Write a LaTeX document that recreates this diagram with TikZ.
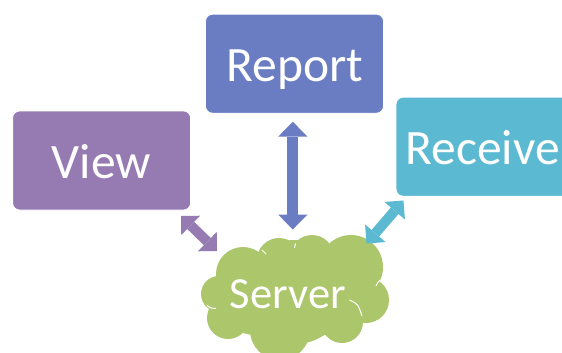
\documentclass[tikz,border=0pt]{standalone}
\usepackage{fontspec}
\setmainfont{Carlito}
\usetikzlibrary{arrows.meta}
\definecolor{reportc}{HTML}{6A7DC2}
\definecolor{viewc}{HTML}{967BB3}
\definecolor{recvc}{HTML}{5BBAD1}
\definecolor{cloudc}{HTML}{ACC66C}
\begin{document}
\begin{tikzpicture}[x=1pt,y=-1pt,
  box/.style={rounded corners=7pt, draw=white, line width=0.8pt, minimum width=178pt, minimum height=99pt, inner sep=0pt},
  lbl/.style={text=white, font=\fontsize{49.5}{49.5}\selectfont, inner sep=0pt},
  bigarrow/.style={line width=10.8pt, {Triangle[width=29.4pt,length=15pt,line width=0pt]}-{Triangle[width=29.4pt,length=15pt,line width=0pt]}},
  diagarrow/.style={line width=10pt, {Triangle[width=27pt,length=13.5pt,line width=0pt]}-{Triangle[width=27pt,length=13.5pt,line width=0pt]}},
  puff/.style={fill=cloudc},
  inner/.style={draw=white, line width=1pt}]
\useasboundingbox (0,0) rectangle (562,353);
\clip (0,0) rectangle (562,353);
% boxes
\node[box, fill=reportc] (report) at (294.5,63.7) {};
\node[box, fill=viewc] (view) at (101.6,160.5) {};
\node[box, fill=recvc] (receive) at (485,146.7) {};
\node[lbl, anchor=base] (reportlbl) at (295.2,81.7) {Report};
\node[lbl, anchor=base] (viewlbl) at (101.3,178.3) {View};
\node[lbl, anchor=base west] (receivelbl) at (405.5,164.3) {Receive};
% cloud
\fill[puff] (243,274) circle (27);
\fill[puff] (279,260) circle (22);
\fill[puff] (312,257) circle (22);
\fill[puff] (351,267) circle (32);
\fill[puff] (366,300) circle (23);
\fill[puff] (342,322) circle (21);
\fill[puff] (280,330) circle (30);
\fill[puff] (228,318) circle (21);
\fill[puff] (219,294) circle (18);
\fill[puff] (295,292) circle (52);
\fill[puff] (255,300) circle (35);
\fill[puff] (325,305) circle (30);
% inner white arcs
\draw[inner] (207,305.5) .. controls (210,308) .. (216,308.5);
\draw[inner] (349.5,300) .. controls (358,304) .. (362,316);
\draw[inner] (376,286) .. controls (378,282) .. (380,280);
\draw[inner] (324.5,337) .. controls (323,341) .. (322.5,346);
\draw[inner] (262,250) .. controls (264,251.5) .. (266,254);
\draw[inner] (295.5,243.5) .. controls (295,245.5) .. (294.5,248);
\node[lbl, font=\fontsize{44.5}{44.5}\selectfont, anchor=base] (serverlbl) at (287.7,308.3) {Server};
% connectors
\coordinate (rtop) at (292.8,121.7);
\coordinate (rbot) at (292.8,229.5);
\coordinate (vtop) at (181,216);
\coordinate (vbot) at (217,251);
\coordinate (ctop) at (403.5,200.5);
\coordinate (cbot) at (366.5,243.5);
\draw[bigarrow, reportc] (rtop) -- (rbot);
\draw[diagarrow, viewc] (vtop) -- (vbot);
\draw[diagarrow, recvc] (ctop) -- (cbot);
\end{tikzpicture}
\end{document}
